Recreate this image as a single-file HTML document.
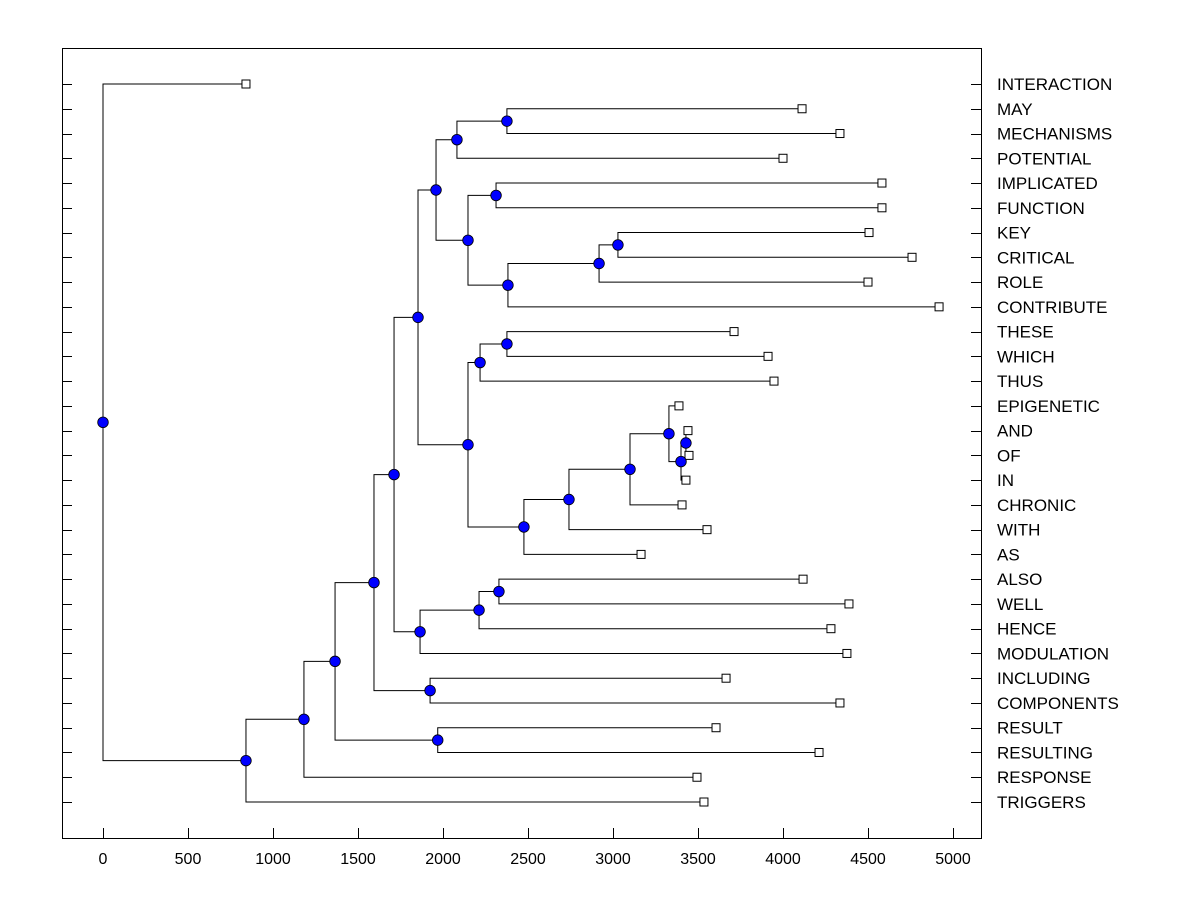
<!DOCTYPE html>
<html><head><meta charset="utf-8"><style>
body{margin:0;background:#fff;}
svg{display:block;font-family:"Liberation Sans",Arial,sans-serif;}
</style></head><body>
<svg id="chart" width="1200" height="900"></svg>
<script>
// Leaf labels (top to bottom) and leaf heights
const leafLabels = ["INTERACTION","MAY","MECHANISMS","POTENTIAL","IMPLICATED","FUNCTION","KEY","CRITICAL","ROLE","CONTRIBUTE","THESE","WHICH","THUS","EPIGENETIC","AND","OF","IN","CHRONIC","WITH","AS","ALSO","WELL","HENCE","MODULATION","INCLUDING","COMPONENTS","RESULT","RESULTING","RESPONSE","TRIGGERS"];
const leafValues = [841,4112,4335,4000,4582,4582,4506,4759,4500,4918,3712,3912,3947,3388,3441,3447,3429,3406,3553,3165,4118,4388,4282,4376,3665,4335,3606,4212,3494,3535];
// Merges: [childA, childB, height]; leaves are indices 0..29, internal nodes "n<k>"
const merges = [
 [1,2,2376],        // n0
 ["n0",3,2082],     // n1
 [4,5,2312],        // n2
 [6,7,3029],        // n3
 ["n3",8,2918],     // n4
 ["n4",9,2382],     // n5
 ["n2","n5",2147],  // n6
 ["n1","n6",1959],  // n7
 [10,11,2376],      // n8
 ["n8",12,2218],    // n9
 [14,15,3429],      // n10
 ["n10",16,3400],   // n11
 [13,"n11",3329],   // n12
 ["n12",17,3100],   // n13
 ["n13",18,2741],   // n14
 ["n14",19,2476],   // n15
 ["n9","n15",2147], // n16
 ["n7","n16",1853], // n17
 [20,21,2329],      // n18
 ["n18",22,2212],   // n19
 ["n19",23,1865],   // n20
 ["n17","n20",1712],// n21
 [24,25,1924],      // n22
 ["n21","n22",1594],// n23
 [26,27,1969],      // n24
 ["n23","n24",1365],// n25
 ["n25",28,1182],   // n26
 ["n26",29,841],    // n27
 [0,"n27",0]        // n28 root
];
const xTicks = [0,500,1000,1500,2000,2500,3000,3500,4000,4500,5000];

const svg = document.getElementById('chart');
const NS = 'http://www.w3.org/2000/svg';
const L=62,R=981,T=48,B=838;
const xs = v => 103 + v*0.17;
const ys = i => 84 + i*(718/29);
function mk(tag, attrs, parent){const e=document.createElementNS(NS,tag);for(const k in attrs)e.setAttribute(k,attrs[k]);(parent||svg).appendChild(e);return e;}

const frame = mk('rect',{x:L+0.5,y:T+0.5,width:R-L,height:B-T,fill:'none',stroke:'#000'});



// ticks
leafLabels.forEach((lab,i)=>{
  const y=Math.round(ys(i))+0.5;
  const t1=mk('line',{x1:L,x2:L+10,y1:y,y2:y,stroke:'#000'});
  
  
  const t2=mk('line',{x1:R-10,x2:R,y1:y,y2:y,stroke:'#000'});
  
  
  const tx=mk('text',{x:997,y:ys(i)+6,'font-size':'17',fill:'#000'});
  tx.textContent=lab;
  
  
});
xTicks.forEach(v=>{
  const x=Math.round(xs(v))+0.5;
  const t=mk('line',{x1:x,x2:x,y1:B-10,y2:B,stroke:'#000'});
  
  
  const tx=mk('text',{x:xs(v),y:864,'font-size':'16','text-anchor':'middle'});
  tx.textContent=v;
  
  
});

// compute nodes
const nodes={};
leafValues.forEach((v,i)=>{nodes[i]={x:v,y:ys(i),leaf:true};});
merges.forEach((m,k)=>{
  const a=nodes[m[0]],b=nodes[m[1]];
  nodes['n'+k]={x:m[2],y:(a.y+b.y)/2,a:a,b:b};
});
const g=mk('g',{});


merges.forEach((m,k)=>{
  const n=nodes['n'+k];
  [n.a,n.b].forEach(c=>{
    const p=mk('polyline',{points:`${xs(n.x)},${n.y} ${xs(n.x)},${c.y} ${xs(c.x)},${c.y}`,fill:'none',stroke:'#000','stroke-width':1},g);
    
    
  });
});
leafValues.forEach((v,i)=>{
  const r=mk('rect',{x:xs(v)-4,y:ys(i)-4,width:8,height:8,fill:'#fff',stroke:'#000'});
  
  
});
merges.forEach((m,k)=>{
  const n=nodes['n'+k];
  const c=mk('circle',{cx:xs(n.x),cy:n.y,r:5.3,fill:'#0000ff',stroke:'#000','stroke-width':0.8});
  
  
});
</script>
</body></html>
